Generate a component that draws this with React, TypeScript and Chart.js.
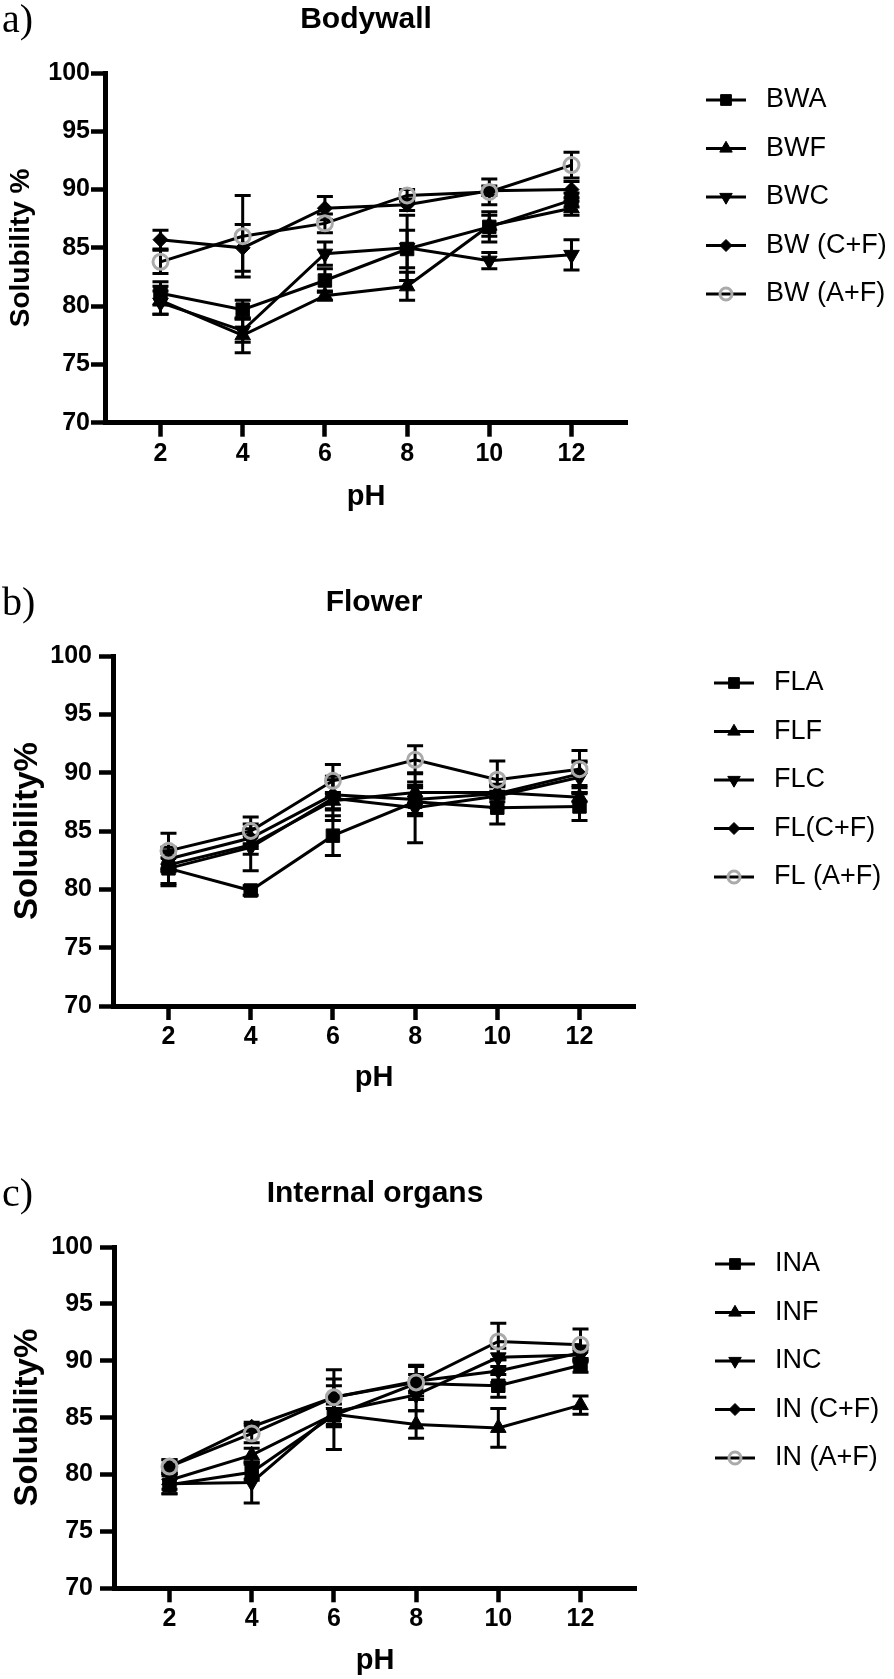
import React, { useEffect, useRef } from 'react';
import { Chart, registerables } from 'chart.js';
import { drawPoint } from 'chart.js/helpers';

Chart.register(...registerables);

// ---------------- data ----------------
const pHValues = [2, 4, 6, 8, 10, 12];
const xTickValues = [2, 4, 6, 8, 10, 12];
const yTickValues = [70, 75, 80, 85, 90, 95, 100];

// a) Bodywall
const bodywallLabels = ['BWA', 'BWF', 'BWC', 'BW (C+F)', 'BW (A+F)'];
const bwA = [81.1, 79.7, 82.2, 84.9, 86.8, 89.1];
const bwAErr = [1.0, 0.8, 1.0, 1.6, 1.3, 0.6];
const bwF = [80.5, 77.5, 80.9, 81.7, 86.9, 88.4];
const bwFErr = [1.2, 1.5, 0.4, 1.2, 0.9, 0.6];
const bwC = [80.3, 77.9, 84.5, 85.0, 83.9, 84.4];
const bwCErr = [1.0, 1.0, 1.0, 2.8, 0.7, 1.3];
const bwCF = [85.7, 85.0, 88.4, 88.7, 89.9, 90.0];
const bwCFErr = [0.8, 2.0, 1.0, 0.5, 0.4, 0.7];
const bwAF = [83.8, 86.0, 87.1, 89.5, 89.8, 92.1];
const bwAFErr = [1.0, 3.5, 0.8, 0.5, 1.1, 1.1];

// b) Flower
const flowerLabels = ['FLA', 'FLF', 'FLC', 'FL(C+F)', 'FL (A+F)'];
const flA = [81.8, 79.9, 84.6, 87.5, 87.0, 87.1];
const flAErr = [1.5, 0.4, 1.7, 1.2, 1.4, 1.2];
const flF = [82.1, 83.8, 87.6, 88.3, 88.3, 87.9];
const flFErr = [0.6, 0.8, 0.7, 0.9, 0.5, 0.4];
const flC = [81.8, 83.6, 87.8, 87.0, 88.0, 89.6];
const flCErr = [1.3, 2.0, 1.9, 3.0, 1.0, 1.4];
const flCF = [82.6, 84.4, 88.1, 87.7, 88.2, 89.9];
const flCFErr = [1.0, 0.8, 1.3, 1.2, 0.7, 1.0];
const flAF = [83.3, 85.0, 89.3, 91.1, 89.4, 90.3];
const flAFErr = [1.5, 1.2, 1.4, 1.2, 1.6, 1.6];

// c) Internal organs
const internalLabels = ['INA', 'INF', 'INC', 'IN (C+F)', 'IN (A+F)'];
const inA = [79.1, 80.2, 85.2, 88.0, 87.8, 89.6];
const inAErr = [0.8, 0.7, 1.0, 0.8, 1.0, 0.6];
const inF = [79.5, 81.7, 85.3, 84.4, 84.1, 86.1];
const inFErr = [0.8, 0.6, 3.1, 1.2, 1.7, 0.8];
const inC = [79.2, 79.3, 85.5, 87.0, 90.3, 90.5];
const inCErr = [0.9, 1.8, 1.2, 1.4, 0.8, 0.6];
const inCF = [80.7, 84.2, 86.8, 88.2, 89.1, 90.7];
const inCFErr = [0.6, 0.4, 1.0, 1.3, 1.0, 0.6];
const inAF = [80.7, 83.6, 86.8, 88.1, 91.7, 91.4];
const inAFErr = [0.6, 0.8, 2.4, 1.5, 1.6, 1.4];

// ---------------- styles ----------------
const FAMILY = "'Liberation Sans', Arial, Helvetica, sans-serif";
const SERIF = "'Liberation Serif', 'Times New Roman', Times, serif";

const seriesStyles = [
  { pointStyle: 'rect', rotation: 0, radius: 9.5, fill: '#000', stroke: '#000', borderWidth: 1, order: 1 },
  { pointStyle: 'triangle', rotation: 0, radius: 9, fill: '#000', stroke: '#000', borderWidth: 1, order: 1 },
  { pointStyle: 'triangle', rotation: 180, radius: 9, fill: '#000', stroke: '#000', borderWidth: 1, order: 1 },
  { pointStyle: 'rectRot', rotation: 0, radius: 7.5, fill: '#000', stroke: '#000', borderWidth: 1, order: 1 },
  { pointStyle: 'circle', rotation: 0, radius: 7.5, fill: 'rgba(0,0,0,0)', stroke: '#aaaaaa', borderWidth: 3, order: 0 },
];

const panels = [
  {
    letter: 'a)', title: 'Bodywall', yTitle: 'Solubility %', labels: bodywallLabels,
    values: [bwA, bwF, bwC, bwCF, bwAF], errors: [bwAErr, bwFErr, bwCErr, bwCFErr, bwAFErr],
    canvasTop: 0, canvasHeight: 540, left: 105, right: 627, top: 73, bottom: 422.7,
    yTitleSize: 28, yTitlePad: 4, yTickPad: 1, xTitlePad: 26, legendTop: 27,
  },
  {
    letter: 'b)', title: 'Flower', yTitle: 'Solubility%', labels: flowerLabels,
    values: [flA, flF, flC, flCF, flAF], errors: [flAErr, flFErr, flCErr, flCFErr, flAFErr],
    canvasTop: 540, canvasHeight: 580, left: 113, right: 635, top: 116, bottom: 466,
    yTitleSize: 33, yTitlePad: 8, yTickPad: 7, xTitlePad: 25, legendTop: 27,
  },
  {
    letter: 'c)', title: 'Internal organs', yTitle: 'Solubility%', labels: internalLabels,
    values: [inA, inF, inC, inCF, inAF], errors: [inAErr, inFErr, inCErr, inCFErr, inAFErr],
    canvasTop: 1120, canvasHeight: 559, left: 114, right: 636, top: 127, bottom: 468.3,
    yTitleSize: 33, yTitlePad: 8, yTickPad: 7, xTitlePad: 1, legendTop: 17,
  },
];

// ---------------- plugins ----------------
const errorBarPlugin = {
  id: 'errorBars',
  beforeDatasetsDraw(chart: any, _args: any, opts: any) {
    const ctx = chart.ctx;
    const yScale = chart.scales.y;
    ctx.save();
    ctx.strokeStyle = opts.color;
    ctx.lineWidth = opts.lineWidth;
    chart.data.datasets.forEach((ds: any, di: number) => {
      const errs = ds.errors;
      if (!errs) return;
      const meta = chart.getDatasetMeta(di);
      meta.data.forEach((pt: any, i: number) => {
        const v = ds.data[i].y;
        const e = errs[i];
        const yt = yScale.getPixelForValue(v + e);
        const yb = yScale.getPixelForValue(v - e);
        const x = pt.x;
        const c = opts.capHalf;
        ctx.beginPath();
        ctx.moveTo(x, yt);
        ctx.lineTo(x, yb);
        ctx.moveTo(x - c, yt);
        ctx.lineTo(x + c, yt);
        ctx.moveTo(x - c, yb);
        ctx.lineTo(x + c, yb);
        ctx.stroke();
      });
    });
    ctx.restore();
  },
};

const sideLegendPlugin = {
  id: 'sideLegend',
  afterDraw(chart: any, _args: any, opts: any) {
    const { ctx, chartArea } = chart;
    const x0 = chartArea.right + opts.offsetX;
    chart.data.datasets.forEach((ds: any, i: number) => {
      const cy = chartArea.top + opts.offsetY + i * opts.rowGap;
      ctx.save();
      ctx.strokeStyle = '#000';
      ctx.lineWidth = opts.lineWidth;
      ctx.beginPath();
      ctx.moveTo(x0, cy);
      ctx.lineTo(x0 + opts.lineLen, cy);
      ctx.stroke();
      ctx.fillStyle = ds.pointBackgroundColor;
      ctx.strokeStyle = ds.pointBorderColor;
      ctx.lineWidth = ds.pointBorderWidth;
      drawPoint(ctx, {
        pointStyle: ds.pointStyle,
        rotation: ds.pointRotation,
        radius: ds.pointRadius * opts.markerScale,
        borderWidth: ds.pointBorderWidth,
      }, x0 + opts.lineLen / 2, cy);
      ctx.fillStyle = '#000';
      ctx.font = opts.font;
      ctx.textAlign = 'left';
      ctx.textBaseline = 'middle';
      ctx.fillText(ds.label, x0 + opts.lineLen + opts.textGap, cy);
      ctx.restore();
    });
  },
};

const panelTextPlugin = {
  id: 'panelText',
  afterDraw(chart: any, _args: any, opts: any) {
    const { ctx, chartArea } = chart;
    ctx.save();
    ctx.fillStyle = '#000';
    ctx.textBaseline = 'middle';
    ctx.font = opts.titleFont;
    ctx.textAlign = 'center';
    ctx.fillText(opts.title, (chartArea.left + chartArea.right) / 2, chartArea.top - opts.titleOffset);
    ctx.font = opts.letterFont;
    ctx.textAlign = 'left';
    ctx.fillText(opts.letter, opts.letterX, chartArea.top - opts.letterOffset);
    ctx.restore();
  },
};

// ---------------- component ----------------
function Panel({ p }: { p: any }) {
  const ref = useRef<HTMLCanvasElement>(null);

  useEffect(() => {
    if (!ref.current) return;
    const datasets = p.labels.map((label: string, si: number) => {
      const st = seriesStyles[si];
      return {
        label,
        data: p.values[si].map((v: number, i: number) => ({ x: pHValues[i], y: v })),
        errors: p.errors[si],
        showLine: true,
        borderColor: '#000',
        borderWidth: 3,
        tension: 0,
        fill: false,
        pointStyle: st.pointStyle,
        pointRotation: st.rotation,
        pointRadius: st.radius,
        pointBackgroundColor: st.fill,
        pointBorderColor: st.stroke,
        pointBorderWidth: st.borderWidth,
        order: st.order,
        clip: false,
      };
    });

    const chart = new Chart(ref.current, {
      type: 'scatter',
      data: { datasets },
      plugins: [errorBarPlugin, sideLegendPlugin, panelTextPlugin],
      options: {
        responsive: false,
        animation: false,
        devicePixelRatio: 1,
        layout: { padding: { top: p.top, left: 0, right: 894 - p.right, bottom: 0 } },
        plugins: {
          legend: { display: false },
          tooltip: { enabled: false },
          title: { display: false },
          errorBars: { color: '#000', lineWidth: 3, capHalf: 8 },
          sideLegend: {
            offsetX: 79, offsetY: p.legendTop, rowGap: 48.5, lineLen: 40, textGap: 20,
            lineWidth: 3, markerScale: 0.8, font: `27px ${FAMILY}`,
          },
          panelText: {
            title: p.title, letter: p.letter,
            titleFont: `bold 30px ${FAMILY}`, titleOffset: 53,
            letterFont: `40px ${SERIF}`, letterX: 2, letterOffset: 52,
          },
        },
        scales: {
          x: {
            type: 'linear',
            min: 0.65,
            max: 13.35,
            afterBuildTicks: (s: any) => { s.ticks = xTickValues.map((v) => ({ value: v })); },
            afterFit: (s: any) => { s.height = p.canvasHeight - p.bottom; },
            grid: { display: true, drawOnChartArea: false, drawTicks: true, tickLength: 14, tickWidth: 4.5, tickColor: '#000', color: '#000' },
            border: { display: true, color: '#000', width: 5 },
            ticks: { color: '#000', font: { family: FAMILY, size: 25, weight: 'bold' }, padding: 2, maxRotation: 0, autoSkip: false },
            title: { display: true, text: 'pH', color: '#000', font: { family: FAMILY, size: 29, weight: 'bold' }, padding: { top: 0, bottom: p.xTitlePad } },
          },
          y: {
            type: 'linear',
            min: 70,
            max: 100,
            afterBuildTicks: (s: any) => { s.ticks = yTickValues.map((v) => ({ value: v })); },
            afterFit: (s: any) => { s.width = p.left; },
            grid: { display: true, drawOnChartArea: false, drawTicks: true, tickLength: 14, tickWidth: 4.5, tickColor: '#000', color: '#000' },
            border: { display: true, color: '#000', width: 5 },
            ticks: { color: '#000', font: { family: FAMILY, size: 25, weight: 'bold' }, padding: p.yTickPad },
            title: { display: true, text: p.yTitle, color: '#000', font: { family: FAMILY, size: p.yTitleSize, weight: 'bold' }, padding: { top: p.yTitlePad, bottom: 0 } },
          },
        },
      } as any,
    } as any);

    return () => chart.destroy();
  }, [p]);

  return (
    <canvas
      ref={ref}
      width={894}
      height={p.canvasHeight}
      style={{ position: 'absolute', left: 0, top: p.canvasTop, width: 894, height: p.canvasHeight, display: 'block' }}
    />
  );
}

export default function App() {
  return (
    <div style={{ position: 'absolute', left: 0, top: 0, width: 894, height: 1679, background: '#fff', overflow: 'hidden' }}>
      {panels.map((p) => (
        <Panel key={p.letter} p={p} />
      ))}
    </div>
  );
}
